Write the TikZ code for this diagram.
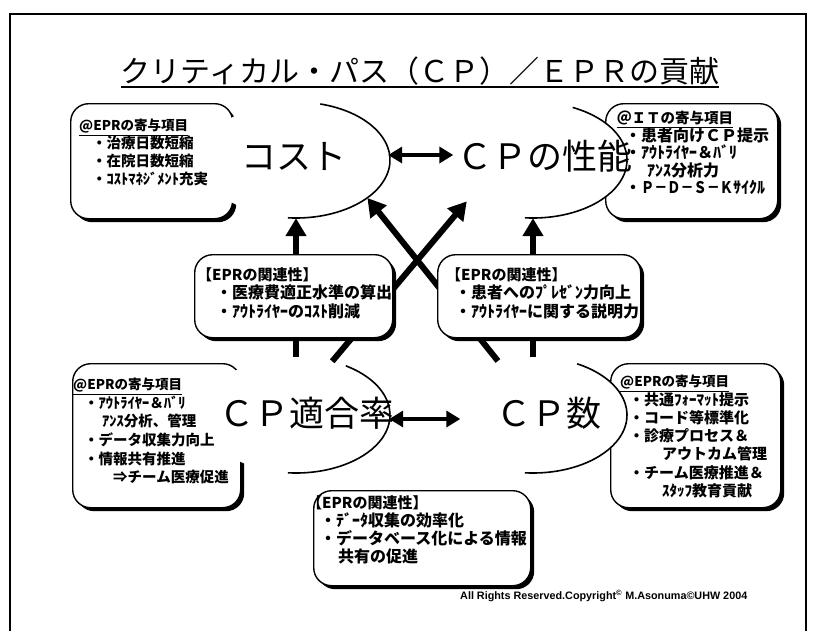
\documentclass[tikz,border=0pt]{standalone}
\usepackage{fontspec}
\usepackage{graphicx}
\setmainfont{Noto Sans CJK JP}
\newfontfamily\jp{Noto Sans CJK JP}
\newfontfamily\lat{Liberation Sans}
\usetikzlibrary{arrows.meta,shapes.geometric,shadows,calc}
\begin{document}
\begin{tikzpicture}[x=1pt,y=-1pt,
  every node/.style={inner sep=0pt},
  cbox/.style={draw, line width=1.4pt, fill=white, rounded corners=18pt, anchor=north west,
     drop shadow={shadow xshift=3.5pt, shadow yshift=-3.5pt, fill=black, opacity=1}},
  oval/.style={ellipse, minimum width=188pt, minimum height=116pt, fill=white},
  arcline/.style={line width=1.6pt},
  bigtxt/.style={font=\jp\fontsize{35}{40}\selectfont},
  uparrow/.style={line width=6pt, -{Triangle[length=18pt,width=20pt]}},
  dblarrow/.style={line width=4.5pt, {Triangle[length=14pt,width=16pt]}-{Triangle[length=14pt,width=16pt]}},
  boxtxt/.style={anchor=north west, align=left, font=\jp\bfseries\fontsize{15}{18.3}\selectfont}
]
\useasboundingbox (0,0) rectangle (814,630);
\fill[white] (0,0) rectangle (814,630);
\draw[line width=1.5pt] (10,14) rectangle (806,640);

% title
\node[font=\jp\fontsize{30}{36}\selectfont, anchor=base] (title) at (420,82) {クリティカル・パス（ＣＰ）／ＥＰＲの貢献};
\draw[line width=1.6pt] ($(title.base west)+(0,5)$) -- ($(title.base east)+(0,5)$);

% corner boxes
\node[cbox, minimum width=162pt, minimum height=115pt] (BTL) at (70,103) {};
\node[cbox, minimum width=172pt, minimum height=115pt] (BTR) at (605,103) {};
\node[cbox, minimum width=168pt, minimum height=144pt] (BBL) at (72,363) {};
\node[cbox, minimum width=170pt, minimum height=144pt] (BBR) at (610,363) {};

% ellipses
\node[oval] (E1) at (296,160) {};
\node[oval] (E2) at (533,160) {};
\node[oval] (E3) at (296,415) {};
\node[oval] (E4) at (533,415) {};
\draw[arcline] ([shift={(75:94pt and 58pt)}]E1.center) arc[start angle=75, end angle=-95, x radius=94pt, y radius=58pt];
\draw[arcline] ([shift={(65:94pt and 58pt)}]E2.center) arc[start angle=65, end angle=-95, x radius=94pt, y radius=58pt];
\draw[arcline] ([shift={(58:94pt and 58pt)}]E3.center) arc[start angle=58, end angle=-95, x radius=94pt, y radius=58pt];
\draw[arcline] ([shift={(62:94pt and 58pt)}]E4.center) arc[start angle=62, end angle=-95, x radius=94pt, y radius=58pt];

% big texts
\node[bigtxt] (cost) at (294,156) {コスト};
\node[bigtxt] (perf) at (545,156) {ＣＰの性能};
\node[bigtxt] (rate) at (307,413) {ＣＰ適合率};
\node[bigtxt] (num) at (549,413) {ＣＰ数};

% arrows
\draw[uparrow] (E3.north) -- (E1.south);
\draw[uparrow] (E4.north) -- (E2.south);
\draw[uparrow] (E3.56) -- (E2.212);
\draw[uparrow] (E4.123) -- (E1.332);
\draw[dblarrow] ($(E1.east)+(-2,-5)$) -- ($(E1.east -| perf.west)+(-4,-5)$);
\draw[dblarrow] ($(E3.east)+(-1,4)$) -- ($(E3.east -| num.west)+(-36,4)$);

% middle boxes
\node[cbox, minimum width=198pt, minimum height=83pt] (BML) at (194,254) {};
\node[cbox, minimum width=203pt, minimum height=83pt] (BMR) at (437,254) {};
\node[cbox, minimum width=217pt, minimum height=95pt] (BBC) at (313,490) {};

% box texts
\node[boxtxt, font=\jp\bfseries\fontsize{14.5}{18}\selectfont] (TTL) at (79,119)
 {{\fontsize{13.5}{18}\selectfont\underline{@EPRの寄与項目}}\\
  \hspace*{13pt}・治療日数短縮\\
  \hspace*{13pt}・在院日数短縮\\
  \hspace*{13pt}・ｺｽﾄﾏﾈｼﾞﾒﾝﾄ充実};
\node[boxtxt, font=\jp\bfseries\fontsize{16}{17.5}\selectfont] (TTR) at (617,111)
 {{\fontsize{14.5}{17.5}\selectfont\underline{＠ＩＴの寄与項目}}\\
  \hspace*{8pt}・患者向けＣＰ提示\\
  \hspace*{8pt}・ｱｳﾄﾗｲﾔｰ＆ﾊﾞﾘ\\
  \hspace*{30pt}ｱﾝｽ分析力\\
  \hspace*{8pt}・\scalebox{0.82}[1]{Ｐ－Ｄ－Ｓ－Ｋ}ｻｲｸﾙ};
\node[boxtxt, font=\jp\bfseries\fontsize{16}{18.5}\selectfont] (TML) at (197,267)
 {{\fontsize{15}{18.5}\selectfont【EPRの関連性】}\\
  \hspace*{19pt}・医療費適正水準の算出\\
  \hspace*{19pt}・ｱｳﾄﾗｲﾔｰのｺｽﾄ削減};
\node[boxtxt, font=\jp\bfseries\fontsize{16}{18.5}\selectfont] (TMR) at (446,267)
 {{\fontsize{15}{18.5}\selectfont【EPRの関連性】}\\
  \hspace*{9pt}・患者へのﾌﾟﾚｾﾞﾝ力向上\\
  \hspace*{9pt}・ｱｳﾄﾗｲﾔｰに関する説明力};
\node[boxtxt, font=\jp\bfseries\fontsize{14.5}{18.6}\selectfont] (TBL) at (73,378)
 {{\fontsize{13.5}{18.6}\selectfont\underline{@EPRの寄与項目}}\\
  \hspace*{11pt}・ｱｳﾄﾗｲﾔｰ＆ﾊﾞﾘ\\
  \hspace*{29pt}ｱﾝｽ分析、管理\\
  \hspace*{11pt}・データ収集力向上\\
  \hspace*{11pt}・情報共有推進\\
  \hspace*{40pt}⇒チーム医療促進};
\node[boxtxt, font=\jp\bfseries\fontsize{15}{18.3}\selectfont] (TBR) at (620,375)
 {{\fontsize{13.5}{18.3}\selectfont\underline{@EPRの寄与項目}}\\
  \hspace*{9pt}・共通ﾌｫｰﾏｯﾄ提示\\
  \hspace*{9pt}・コード等標準化\\
  \hspace*{9pt}・診療プロセス＆\\
  \hspace*{42pt}アウトカム管理\\
  \hspace*{9pt}・チーム医療推進＆\\
  \hspace*{42pt}ｽﾀｯﾌ教育貢献};
\node[boxtxt, font=\jp\bfseries\fontsize{16}{18.3}\selectfont] (TBC) at (307,495)
 {{\fontsize{15}{18.3}\selectfont【EPRの関連性】}\\
  \hspace*{13pt}・ﾃﾞｰﾀ収集の効率化\\
  \hspace*{13pt}・データベース化による情報\\
  \hspace*{31pt}共有の促進};

% footer
\node[font=\lat\bfseries\fontsize{10.8}{12}\selectfont, anchor=west] (foot) at (460,596)
 {All Rights Reserved.Copyright\textsuperscript{©} M.Asonuma©UHW 2004};
\end{tikzpicture}
\end{document}
